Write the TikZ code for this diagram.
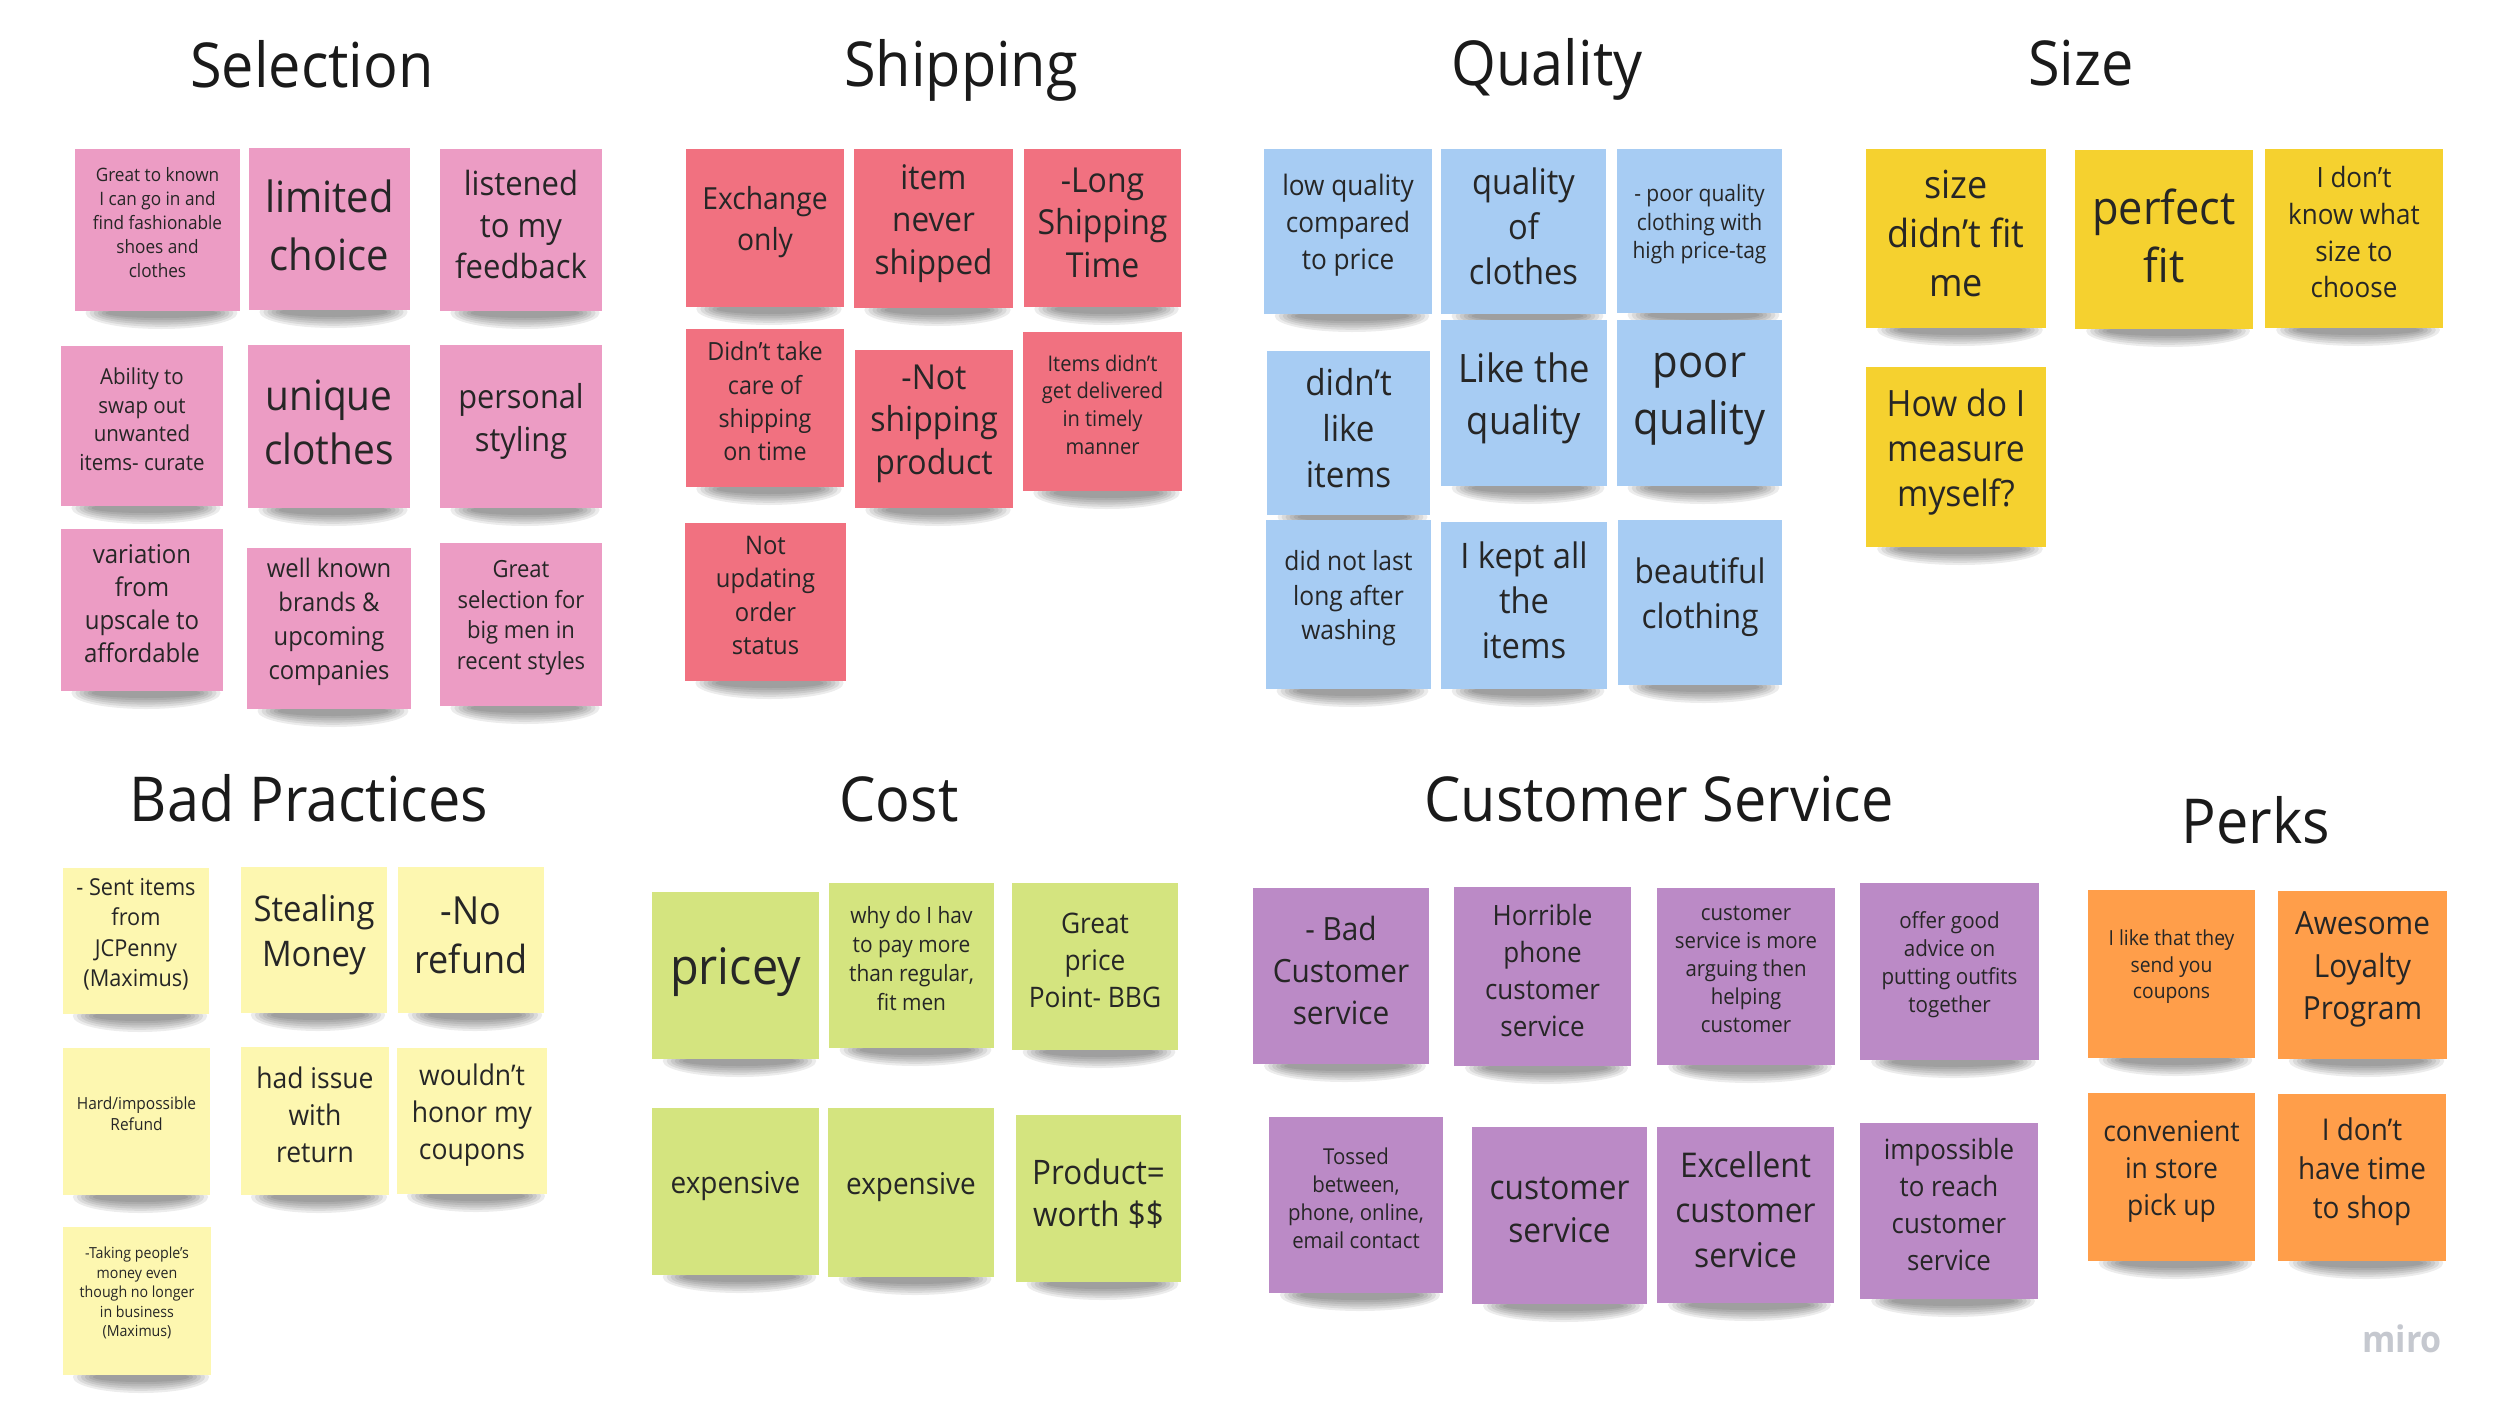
\documentclass[tikz,border=0pt]{standalone}
\usepackage{fontspec}
\setmainfont{Open Sans}[FakeStretch=0.93]
\usetikzlibrary{fit,calc,backgrounds}

\definecolor{selpink}{HTML}{EC9CC4}
\definecolor{shipred}{HTML}{F17180}
\definecolor{qualblue}{HTML}{A7CCF3}
\definecolor{sizeyellow}{HTML}{F5D12F}
\definecolor{badyellow}{HTML}{FDF7B0}
\definecolor{costgreen}{HTML}{D4E47F}
\definecolor{csviolet}{HTML}{BB8AC6}
\definecolor{perkorange}{HTML}{FF9E4A}
\definecolor{notetext}{HTML}{262626}
\definecolor{headtext}{HTML}{1A1A1A}
\definecolor{logogray}{HTML}{C5C8CF}

% font size given by glyph width, line skip as measured
\newcommand{\notefs}[2]{\fontsize{\fpeval{round(#1/0.93,2)}}{#2}\selectfont}

\begin{document}
\begin{tikzpicture}[x=1pt, y=-1pt,
  sticky/.style={inner sep=0pt, outer sep=0pt},
  sel/.style={sticky, fill=selpink},
  ship/.style={sticky, fill=shipred},
  qual/.style={sticky, fill=qualblue},
  size/.style={sticky, fill=sizeyellow},
  bad/.style={sticky, fill=badyellow},
  cost/.style={sticky, fill=costgreen},
  cs/.style={sticky, fill=csviolet},
  perk/.style={sticky, fill=perkorange},
  note/.style n args={3}{label={[align=center, text=notetext,
      font=\notefs{#1}{#2}, yshift={10-0.15*#1}]center:{#3}}},
  heading/.style={anchor=base, text=headtext, font=\notefs{57.6}{70}},
  curl/.style={fill=black, opacity=0.075}
]
\useasboundingbox (0,0) rectangle (2500,1411);

% group titles
\node[heading] (tsel) at (312,87) {Selection};
\node[heading] (tship) at (961,86) {Shipping};
\node[heading] (tqual) at (1547,85) {Quality};
\node[heading] (tsize) at (2081,85) {Size};
\node[heading] (tbad) at (309,821) {Bad Practices};
\node[heading] (tcost) at (899,821) {Cost};
\node[heading] (tcs) at (1659,821) {Customer Service};
\node[heading] (tperk) at (2256,843) {Perks};

% Selection
\node[sel, fit={(75,149) (240,311)}, note={17.2}{24.1}{Great to known\\I can go in and\\find fashionable\\shoes and\\clothes}] (sel1) {};
\node[sel, fit={(249,148) (410,310)}, note={40}{58}{limited\\choice}] (sel2) {};
\node[sel, fit={(440,149) (602,311)}, note={31}{41.4}{listened\\to my\\feedback}] (sel3) {};
\node[sel, fit={(61,346) (223,506)}, note={20.5}{28.5}{Ability to\\swap out\\unwanted\\items- curate}] (sel4) {};
\node[sel, fit={(248,345) (410,508)}, note={38.8}{54.6}{unique\\clothes}] (sel5) {};
\node[sel, fit={(440,345) (602,508)}, note={30.7}{43.3}{personal\\styling}] (sel6) {};
\node[sel, fit={(61,529) (223,691)}, note={24}{33.2}{variation\\from\\upscale to\\affordable}] (sel7) {};
\node[sel, fit={(247,548) (411,709)}, note={23.8}{33.9}{well known\\brands \&\\upcoming\\companies}] (sel8) {};
\node[sel, fit={(440,543) (602,706)}, note={22}{30.4}{Great\\selection for\\big men in\\recent styles}] (sel9) {};

% Shipping
\node[ship, fit={(686,149) (844,307)}, note={28.3}{40.7}{Exchange\\only}] (ship1) {};
\node[ship, fit={(854,149) (1013,308)}, note={31.5}{42.5}{item\\never\\shipped}] (ship2) {};
\node[ship, fit={(1024,149) (1181,307)}, note={32}{42.5}{-Long\\Shipping\\Time}] (ship3) {};
\node[ship, fit={(686,329) (844,487)}, note={23.3}{33.3}{Didn't take\\care of\\shipping\\on time}] (ship4) {};
\node[ship, fit={(855,350) (1013,508)}, note={32}{42.5}{-Not\\shipping\\product}] (ship5) {};
\node[ship, fit={(1023,332) (1182,491)}, note={20.1}{27.7}{Items didn't\\get delivered\\in timely\\manner}] (ship6) {};
\node[ship, fit={(685,523) (846,681)}, note={23.8}{33.3}{Not\\updating\\order\\status}] (ship7) {};

% Quality
\node[qual, fit={(1264,149) (1432,314)}, note={26.2}{37}{low quality\\compared\\to price}] (qual1) {};
\node[qual, fit={(1441,149) (1606,314)}, note={32.7}{45.3}{quality\\of\\clothes}] (qual2) {};
\node[qual, fit={(1617,149) (1782,313)}, note={21}{28.7}{- poor quality\\clothing with\\high price-tag}] (qual3) {};
\node[qual, fit={(1267,351) (1430,515)}, note={33.2}{46.2}{didn't\\like\\items}] (qual4) {};
\node[qual, fit={(1441,320) (1607,486)}, note={36.4}{51.8}{Like the\\quality}] (qual5) {};
\node[qual, fit={(1617,320) (1782,486)}, note={41.8}{57.3}{poor\\quality}] (qual6) {};
\node[qual, fit={(1266,520) (1431,689)}, note={24.6}{34.2}{did not last\\long after\\washing}] (qual7) {};
\node[qual, fit={(1441,522) (1607,689)}, note={32.7}{45.3}{I kept all\\the\\items}] (qual8) {};
\node[qual, fit={(1618,520) (1782,685)}, note={31.5}{44.4}{beautiful\\clothing}] (qual9) {};

% Size
\node[size, fit={(1866,149) (2046,328)}, note={36}{49}{size\\didn't fit\\me}] (size1) {};
\node[size, fit={(2075,150) (2253,329)}, note={43.3}{58}{perfect\\fit}] (size2) {};
\node[size, fit={(2265,149) (2443,328)}, note={26}{36.7}{I don't\\know what\\size to\\choose}] (size3) {};
\node[size, fit={(1866,367) (2046,547)}, note={33.7}{45}{How do I\\measure\\myself?}] (size4) {};

% Bad Practices
\node[bad, fit={(63,868) (209,1014)}, note={21.7}{30.4}{- Sent items\\from\\JCPenny\\(Maximus)}] (bad1) {};
\node[bad, fit={(241,867) (387,1013)}, note={32.8}{44.8}{Stealing\\Money}] (bad2) {};
\node[bad, fit={(398,867) (544,1013)}, note={36}{48.2}{-No\\refund}] (bad3) {};
\node[bad, fit={(63,1048) (210,1195)}, note={15.5}{21.7}{Hard/impossible\\Refund}] (bad4) {};
\node[bad, fit={(241,1047) (389,1195)}, note={26.5}{37}{had issue\\with\\return}] (bad5) {};
\node[bad, fit={(397,1048) (547,1194)}, note={26.5}{37}{wouldn't\\honor my\\coupons}] (bad6) {};
\node[bad, fit={(63,1227) (211,1375)}, note={14.2}{19.6}{-Taking people's\\money even\\though no longer\\in business\\(Maximus)}] (bad7) {};

% Cost
\node[cost, fit={(652,892) (819,1059)}, note={46.8}{60}{pricey}] (cost1) {};
\node[cost, fit={(829,883) (994,1048)}, note={20.9}{29.1}{why do I hav\\to pay more\\than regular,\\fit men}] (cost2) {};
\node[cost, fit={(1012,883) (1178,1050)}, note={26.3}{37}{Great\\price\\Point- BBG}] (cost3) {};
\node[cost, fit={(652,1108) (819,1275)}, note={27.9}{38}{expensive}] (cost4) {};
\node[cost, fit={(828,1108) (994,1277)}, note={27.9}{38}{expensive}] (cost5) {};
\node[cost, fit={(1016,1115) (1181,1282)}, note={31.4}{42}{Product=\\worth \$\$}] (cost6) {};

% Customer Service
\node[cs, fit={(1253,888) (1429,1064)}, note={29.8}{42}{- Bad\\Customer\\service}] (cs1) {};
\node[cs, fit={(1454,887) (1631,1066)}, note={26}{37}{Horrible\\phone\\customer\\service}] (cs2) {};
\node[cs, fit={(1657,888) (1835,1065)}, note={20.4}{28}{customer\\service is more\\arguing then\\helping\\customer}] (cs3) {};
\node[cs, fit={(1860,883) (2039,1060)}, note={20.6}{28}{offer good\\advice on\\putting outfits\\together}] (cs4) {};
\node[cs, fit={(1269,1117) (1443,1293)}, note={20.4}{28}{Tossed\\between,\\phone, online,\\email contact}] (cs5) {};
\node[cs, fit={(1472,1127) (1647,1304)}, note={31.6}{43}{customer\\service}] (cs6) {};
\node[cs, fit={(1657,1127) (1834,1303)}, note={31.7}{45}{Excellent\\customer\\service}] (cs7) {};
\node[cs, fit={(1860,1123) (2038,1299)}, note={25.9}{37}{impossible\\to reach\\customer\\service}] (cs8) {};

% Perks
\node[perk, fit={(2088,890) (2255,1058)}, note={19.3}{26.7}{I like that they\\send you\\coupons}] (perk1) {};
\node[perk, fit={(2278,891) (2447,1059)}, note={29.7}{42.2}{Awesome\\Loyalty\\Program}] (perk2) {};
\node[perk, fit={(2088,1093) (2255,1261)}, note={26.5}{37}{convenient\\in store\\pick up}] (perk3) {};
\node[perk, fit={(2278,1094) (2446,1261)}, note={27.9}{38.7}{I don't\\have time\\to shop}] (perk4) {};

\node[text=logogray, font=\notefs{34}{40}\bfseries] (logo) at (2402,1339) {miro};

% paper and soft curl shadows under the notes
\begin{scope}[on background layer]
  \fill[white] (0,0) rectangle (2500,1411);
  \foreach \g/\k in {sel/9,ship/7,qual/9,size/4,bad/7,cost/6,cs/8,perk/4}
    \foreach \i in {1,...,\k}
      \foreach \j in {0,...,5}
        \path[curl] let \p1=($(\g\i.south east)-(\g\i.south west)$) in
          ($(\g\i.south)+(4,2)$) ellipse [x radius={0.46*\x1-\j*4pt}, y radius={16pt-\j*2.2pt}];
\end{scope}
\end{tikzpicture}
\end{document}
